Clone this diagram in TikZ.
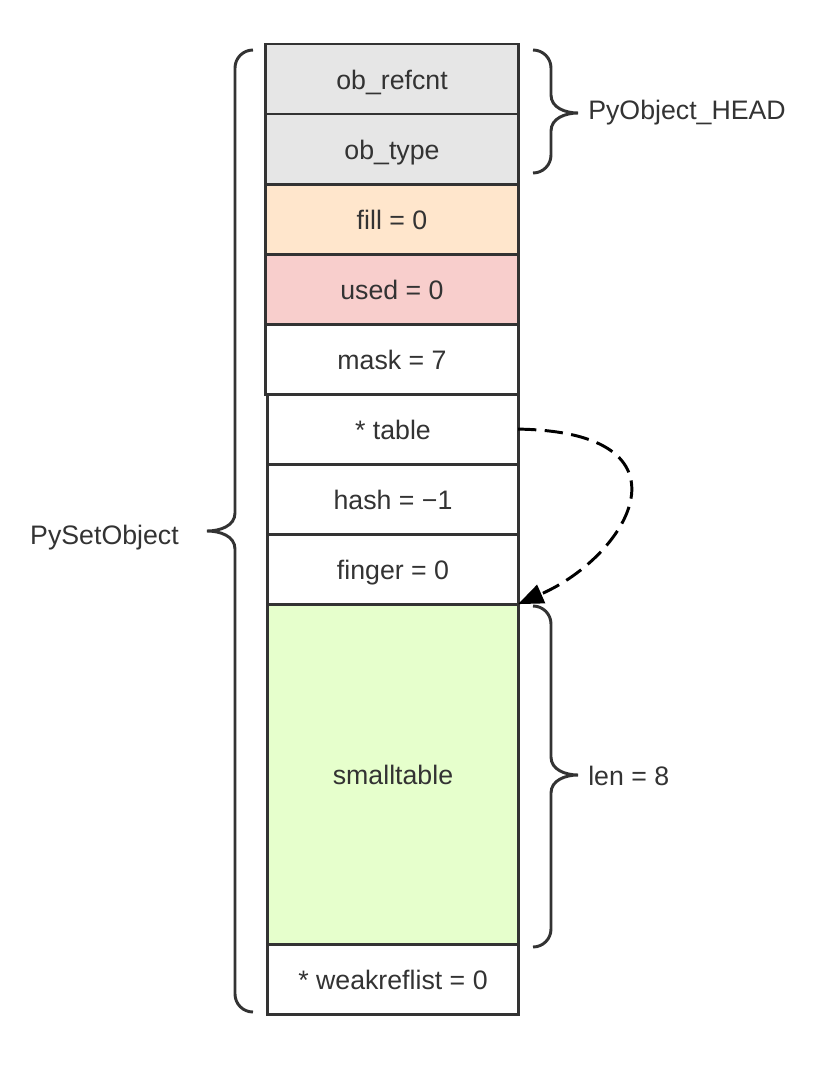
\documentclass[tikz,border=0pt]{standalone}
\usepackage{fontspec}
\setmainfont{Liberation Sans}
\usetikzlibrary{positioning, arrows.meta}
\definecolor{ink}{HTML}{333333}
\definecolor{headgray}{HTML}{E6E6E6}
\definecolor{fillorange}{HTML}{FFE6CC}
\definecolor{usedred}{HTML}{F8CECC}
\definecolor{tablegreen}{HTML}{E6FFCC}
\newcommand{\fieldfont}{\fontsize{19}{23}\selectfont}
\tikzset{
  field/.style={rectangle, draw=ink, line width=2.1pt, outer sep=0pt, inner sep=0pt,
    minimum width=6.3cm, minimum height=1.75cm, text=ink, font=\fieldfont, fill=white,
    text height=17pt, text depth=2pt},
  head/.style={field, fill=headgray},
  lower/.style={field, minimum width=6.25cm},
  brace/.style={draw=ink, line width=2.1pt},
  ptr/.style={draw=black, line width=2.1pt, dash pattern=on 13pt off 6pt,
    -{Triangle[length=18pt, width=14pt]}},
  note/.style={text=ink, font=\fieldfont, inner sep=0pt},
}
\begin{document}
\begin{tikzpicture}[x=0.025cm, y=-0.025cm]
  \useasboundingbox (0,0) rectangle (816,1066);

  % object header
  \node[head] (refcnt) at (392,79) {ob\_refcnt};
  \node[head, below=0pt of refcnt] (type) {ob\_type};

  % set fields
  \node[field, fill=fillorange, below=0pt of type] (fill) {fill = 0};
  \node[field, fill=usedred, below=0pt of fill] (used) {used = 0};
  \node[field, below=0pt of used] (mask) {mask = 7};
  \node[lower, below=0pt of mask, xshift=0.025cm] (table) {* table};
  \node[lower, below=0pt of table] (hash) {hash = −1};
  \node[lower, below=0pt of hash] (finger) {finger = 0};
  \node[lower, fill=tablegreen, minimum height=8.5cm, below=0pt of finger] (small) {smalltable};
  \node[lower, below=0pt of small] (weak) {* weakreflist = 0};

  % pointer to smalltable
  \draw[ptr] (table.east) .. controls (700,432) and (630,555) .. (small.north east);

  % braces
  \draw[brace] (253,50) to[out=180,in=90] (235,68) -- (235,513)
    to[out=-90,in=0] (207,531) to[out=0,in=90] (235,549) -- (235,994)
    to[out=-90,in=180] (253,1012);
  \draw[brace] (533,50) to[out=0,in=90] (551,68) -- (551,95)
    to[out=-90,in=180] (578,113) to[out=180,in=90] (551,131) -- (551,155)
    to[out=-90,in=0] (533,173);
  \draw[brace] (533,606) to[out=0,in=90] (551,624) -- (551,757)
    to[out=-90,in=180] (578,775) to[out=180,in=90] (551,793) -- (551,929)
    to[out=-90,in=0] (533,947);

  % labels
  \node[note, anchor=west] (headlbl) at (588,113) {PyObject\_HEAD};
  \node[note, anchor=west] (lenlbl) at (588,776) {len = 8};
  \node[note, anchor=east] (setlbl) at (179,538) {PySetObject};
\end{tikzpicture}
\end{document}
